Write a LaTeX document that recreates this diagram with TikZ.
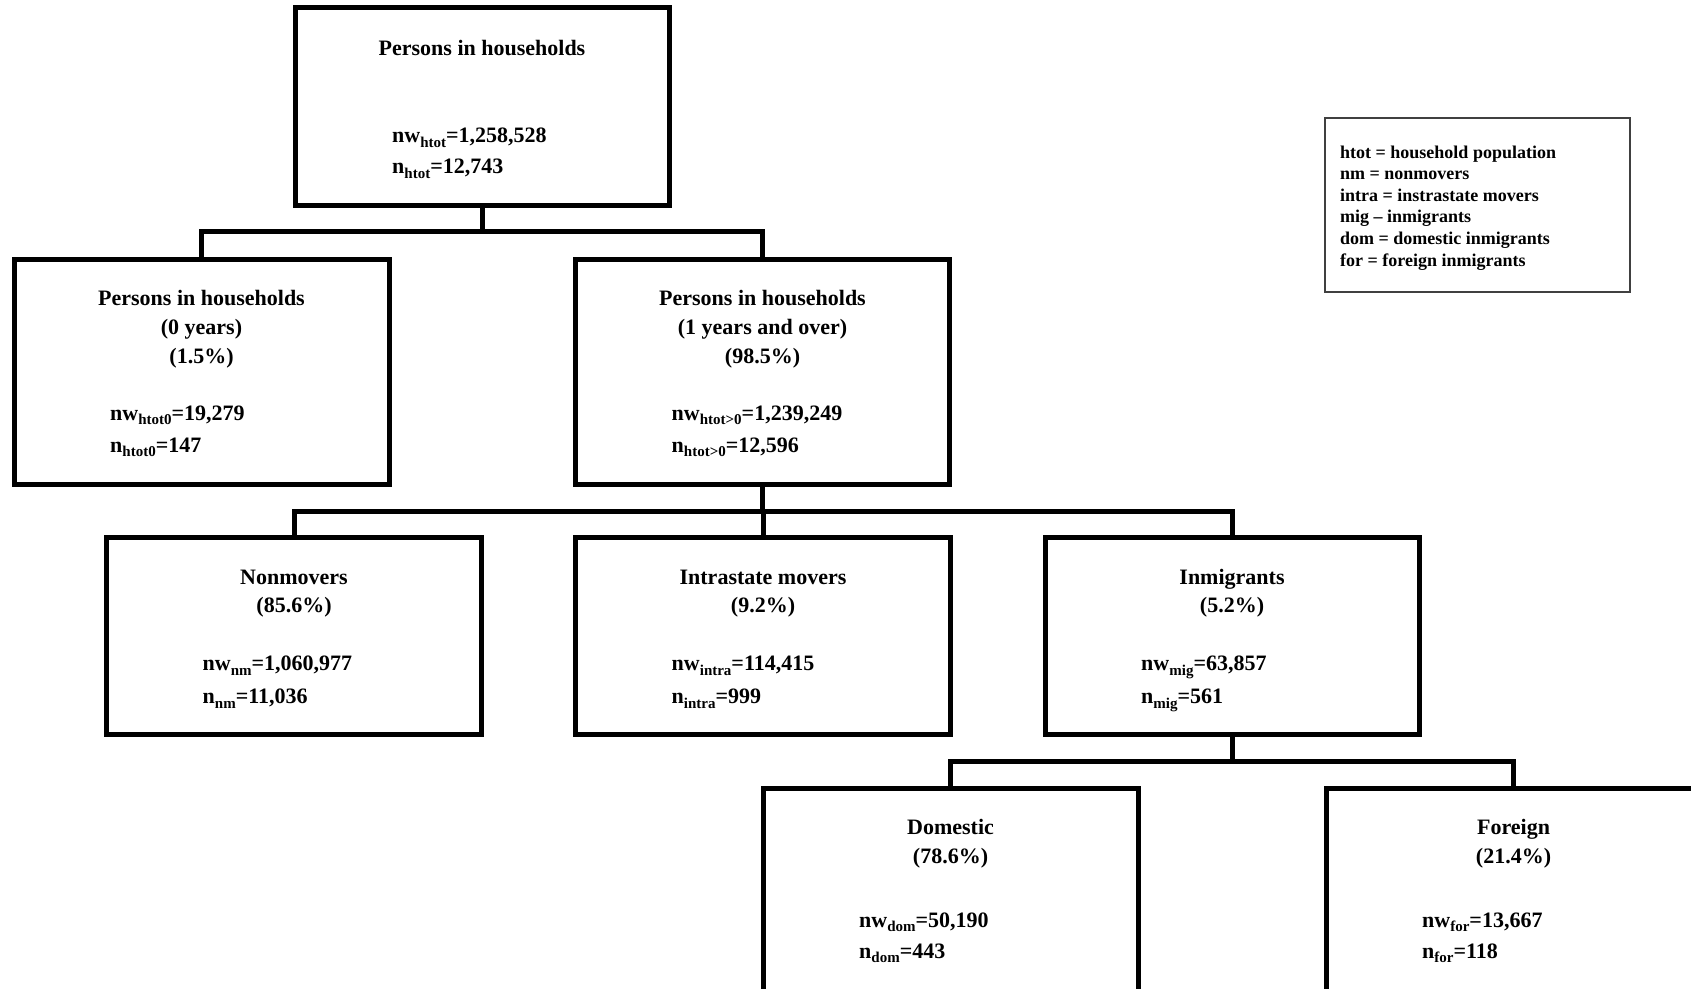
\documentclass[tikz,border=0pt]{standalone}
\usepackage{fontspec}
\setmainfont{Liberation Serif}
\usetikzlibrary{calc}
\newcommand\sbs[1]{\raisebox{-4.5pt}{\fontsize{15}{15}\selectfont #1}}
\begin{document}
\begin{tikzpicture}[x=1pt,y=-1pt,
  box/.style={draw, line width=5pt, minimum width=375pt, inner sep=0pt, outer sep=0pt},
  conn/.style={line width=5pt},
  ttl/.style={anchor=base, inner sep=0pt, font=\fontsize{22}{22}\selectfont\bfseries},
  stat/.style={anchor=base west, inner sep=0pt, font=\fontsize{22}{22}\selectfont\bfseries},
  legbox/.style={draw=black!75, line width=1.2pt, minimum width=305pt, minimum height=174pt, inner sep=0pt, outer sep=0pt},
  legtxt/.style={anchor=base west, inner sep=0pt, font=\fontsize{18}{18}\selectfont\bfseries}]
\useasboundingbox (0,0) rectangle (1691,988);
\clip (0,0) rectangle (1691,988);

% boxes
\node[box, minimum width=374pt, minimum height=197.5pt] (top) at (482,106.25) {};
\node[box, minimum height=225pt] (zero) at (201.5,371.5) {};
\node[box, minimum width=374pt, minimum height=225pt] (one) at (762.5,371.5) {};
\node[box, minimum height=197pt] (nm) at (294,636) {};
\node[box, minimum height=197pt] (intra) at (763,636) {};
\node[box, minimum width=374pt, minimum height=197pt] (mig) at (1232,636) {};
\node[box, minimum height=222pt] (dom) at (950.5,899) {};
\node[box, minimum height=222pt] (frn) at (1513.5,899) {};
\node[legbox] (leg) at (1477.5,205) {};

% bus lines
\coordinate (b1) at (0,231.5);
\coordinate (b2) at (0,511.5);
\coordinate (b3) at (0,761.5);

\draw[conn] (top.south) -- (top.south |- b1);
\draw[conn] (zero.north) -- (zero.north |- b1) -- (one.north |- b1) -- (one.north);

\draw[conn] (one.south) -- (one.south |- b2);
\draw[conn] (nm.north) -- (nm.north |- b2) -- (mig.north |- b2) -- (mig.north);
\draw[conn] (intra.north) -- (intra.north |- b2);

\draw[conn] (mig.south) -- (mig.south |- b3);
\draw[conn] (dom.north) -- (dom.north |- b3) -- (frn.north |- b3) -- (frn.north);

% top box texts
\node[ttl] (t1) at ($(top.north)+(0,48)$) {Persons in households};
\node[stat] (t2) at ($(top.north west)+(97,135)$) {nw\sbs{htot}=1,258,528};
\node[stat] (t3) at ($(top.north west)+(97,166)$) {n\sbs{htot}=12,743};

% level 2
\node[ttl] (z1) at ($(zero.north)+(0,46)$) {Persons in households};
\node[ttl] (z2) at ($(zero.north)+(0,75)$) {(0 years)};
\node[ttl] (z3) at ($(zero.north)+(0,104)$) {(1.5\%)};
\node[stat] (z4) at ($(zero.north west)+(96,161)$) {nw\sbs{htot0}=19,279};
\node[stat] (z5) at ($(zero.north west)+(96,193)$) {n\sbs{htot0}=147};

\node[ttl] (o1) at ($(one.north)+(0,46)$) {Persons in households};
\node[ttl] (o2) at ($(one.north)+(0,75)$) {(1 years and over)};
\node[ttl] (o3) at ($(one.north)+(0,104)$) {(98.5\%)};
\node[stat] (o4) at ($(one.north west)+(96,161)$) {nw\sbs{htot>0}=1,239,249};
\node[stat] (o5) at ($(one.north west)+(96,193)$) {n\sbs{htot>0}=12,596};

% level 3
\node[ttl] (m1) at ($(nm.north)+(0,47)$) {Nonmovers};
\node[ttl] (m2) at ($(nm.north)+(0,75)$) {(85.6\%)};
\node[stat] (m3) at ($(nm.north west)+(96,133)$) {nw\sbs{nm}=1,060,977};
\node[stat] (m4) at ($(nm.north west)+(96,166)$) {n\sbs{nm}=11,036};

\node[ttl] (i1) at ($(intra.north)+(0,47)$) {Intrastate movers};
\node[ttl] (i2) at ($(intra.north)+(0,75)$) {(9.2\%)};
\node[stat] (i3) at ($(intra.north west)+(96,133)$) {nw\sbs{intra}=114,415};
\node[stat] (i4) at ($(intra.north west)+(96,166)$) {n\sbs{intra}=999};

\node[ttl] (g1) at ($(mig.north)+(0,47)$) {Inmigrants};
\node[ttl] (g2) at ($(mig.north)+(0,75)$) {(5.2\%)};
\node[stat] (g3) at ($(mig.north west)+(96,133)$) {nw\sbs{mig}=63,857};
\node[stat] (g4) at ($(mig.north west)+(96,166)$) {n\sbs{mig}=561};

% level 4
\node[ttl] (d1) at ($(dom.north)+(0,46)$) {Domestic};
\node[ttl] (d2) at ($(dom.north)+(0,75)$) {(78.6\%)};
\node[stat] (d3) at ($(dom.north west)+(96,139)$) {nw\sbs{dom}=50,190};
\node[stat] (d4) at ($(dom.north west)+(96,170)$) {n\sbs{dom}=443};

\node[ttl] (f1) at ($(frn.north)+(0,46)$) {Foreign};
\node[ttl] (f2) at ($(frn.north)+(0,75)$) {(21.4\%)};
\node[stat] (f3) at ($(frn.north west)+(96,139)$) {nw\sbs{for}=13,667};
\node[stat] (f4) at ($(frn.north west)+(96,170)$) {n\sbs{for}=118};

% legend
\node[legtxt] (l1) at ($(leg.north west)+(15,40)$) {htot = household population};
\node[legtxt] (l2) at ($(leg.north west)+(15,61.6)$) {nm = nonmovers};
\node[legtxt] (l3) at ($(leg.north west)+(15,83.2)$) {intra = instrastate movers};
\node[legtxt] (l4) at ($(leg.north west)+(15,104.8)$) {mig -- inmigrants};
\node[legtxt] (l5) at ($(leg.north west)+(15,126.4)$) {dom = domestic inmigrants};
\node[legtxt] (l6) at ($(leg.north west)+(15,148)$) {for = foreign inmigrants};
\end{tikzpicture}
\end{document}
